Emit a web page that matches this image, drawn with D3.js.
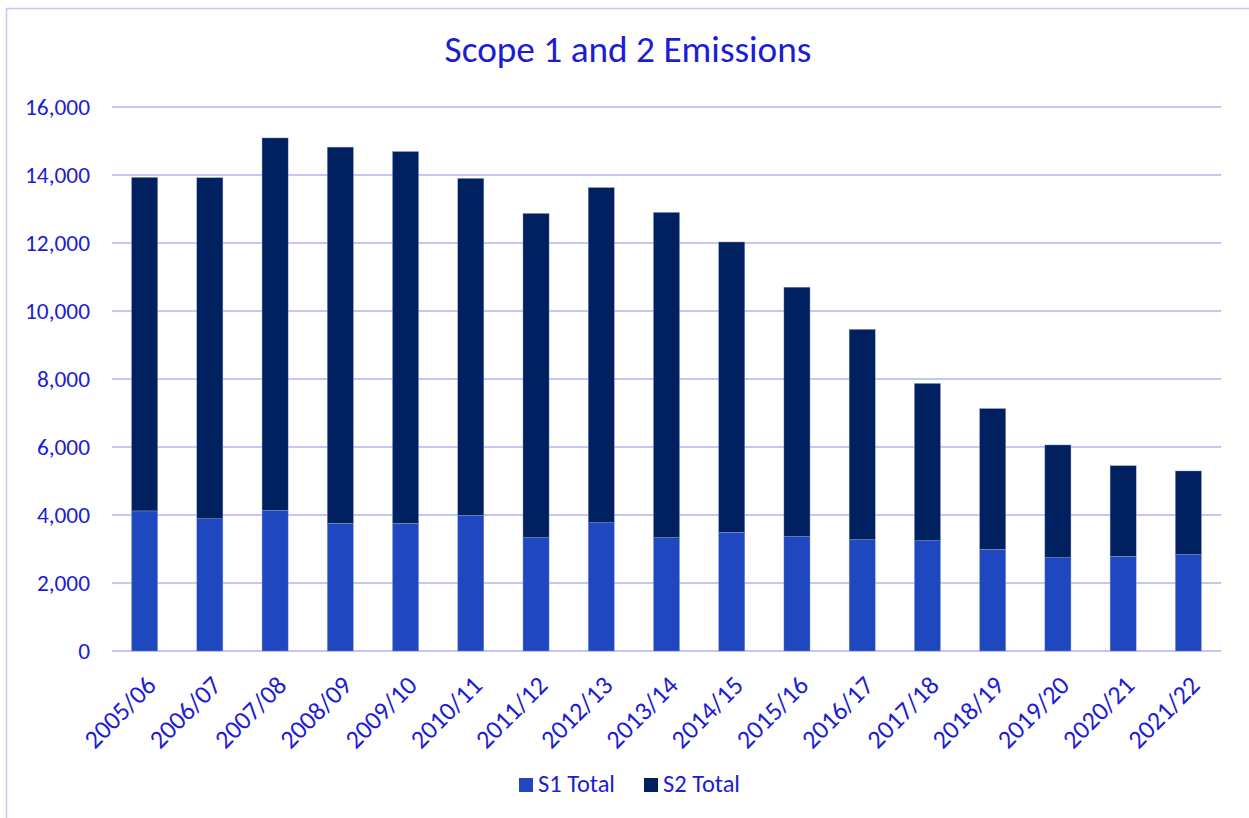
<!DOCTYPE html>
<html>
<head>
<meta charset="utf-8">
<script src="https://cdn.jsdelivr.net/npm/d3@7"></script>
<style>
  html, body { margin: 0; padding: 0; background: #ffffff; }
  svg { display: block; }
</style>
</head>
<body>
<svg id="chart" width="1249" height="818"></svg>
<script>
// ---- data ----
const categories = ["2005/06","2006/07","2007/08","2008/09","2009/10","2010/11","2011/12","2012/13","2013/14","2014/15","2015/16","2016/17","2017/18","2018/19","2019/20","2020/21","2021/22"];
const s1Total = [4120, 3890, 4140, 3755, 3755, 3990, 3335, 3775, 3335, 3490, 3365, 3275, 3245, 2990, 2745, 2785, 2835];
const totals  = [13930, 13920, 15090, 14820, 14690, 13900, 12870, 13630, 12900, 12030, 10700, 9460, 7870, 7130, 6060, 5450, 5295];
const s2Total = totals.map((t, i) => t - s1Total[i]);
const seriesNames = ["S1 Total", "S2 Total"];
const yTicks = [0, 2000, 4000, 6000, 8000, 10000, 12000, 14000, 16000];
const titleText = "Scope 1 and 2 Emissions";

// ---- style ----
const FONT = "Carlito, Calibri, Lato, 'Open Sans', sans-serif";
const TEXT = "#1c1cd4";
const GRID = "#c6c6f6";
const COLORS = ["#1f47bf", "#002060"];

const svg = d3.select("#chart");

// measuring helper: font size that makes text a given width
function fitSize(txt, width, base) {
  const t = svg.append("text").attr("font-family", FONT).attr("font-size", 100).text(txt);
  const w = t.node().getComputedTextLength();
  t.remove();
  return w > 0 ? 100 * width / w : base;
}

// chart frame
svg.append("rect")
  .attr("x", 6.5).attr("y", 8.5).attr("width", 1260).attr("height", 830)
  .attr("fill", "none").attr("stroke", GRID).attr("stroke-width", 1.5);

const x = d3.scaleBand().domain(categories).range([112, 1221]).paddingInner(0.6).paddingOuter(0.3);
const y = d3.scaleLinear().domain([0, 16000]).range([651, 107]);

// gridlines
svg.append("g").selectAll("line").data(yTicks).join("line")
  .attr("x1", 112).attr("x2", 1221)
  .attr("y1", d => y(d)).attr("y2", d => y(d))
  .attr("stroke", GRID).attr("stroke-width", 2);

// stacked bars
const rows = categories.map((c, i) => ({cat: c, s1: s1Total[i], s2: s2Total[i]}));
const stack = d3.stack().keys(["s1", "s2"])(rows);
svg.append("g").selectAll("g").data(stack).join("g")
  .attr("fill", (d, i) => COLORS[i])
  .selectAll("rect").data(d => d).join("rect")
  .attr("x", d => x(d.data.cat))
  .attr("width", x.bandwidth())
  .attr("y", d => y(d[1]))
  .attr("height", d => y(d[0]) - y(d[1]))
  .attr("stroke", "#8fa0d8").attr("stroke-width", 0.4);

// y axis labels
const tickSize = fitSize("16,000", 65, 22);
const yAxis = d3.axisLeft(y).tickValues(yTicks).tickFormat(d3.format(",")).tickSize(0).tickPadding(0);
const yg = svg.append("g").attr("transform", "translate(90,0)").call(yAxis);
yg.select(".domain").remove();
yg.selectAll("text").attr("font-family", FONT).attr("font-size", tickSize).attr("fill", TEXT).attr("dy", "0.34em");

// x axis labels
const xSize = fitSize("2005/06", 89, 22);
const xAxis = d3.axisBottom(x).tickSize(0).tickPadding(0);
const xg = svg.append("g").attr("transform", "translate(0,0)").call(xAxis);
xg.select(".domain").remove();
xg.selectAll(".tick").attr("transform", d => `translate(${x(d) + x.bandwidth() / 2 + 13},687)`);
xg.selectAll("text")
  .attr("font-family", FONT).attr("font-size", xSize).attr("fill", TEXT)
  .attr("text-anchor", "end").attr("dy", 0).attr("y", 0).attr("x", 0)
  .attr("transform", "rotate(-45)");

// title
const titleSize = fitSize(titleText, 367, 36);
svg.append("text")
  .attr("x", 628).attr("y", 62)
  .attr("text-anchor", "middle")
  .attr("font-family", FONT).attr("font-size", titleSize).attr("fill", TEXT)
  .text(titleText);

// legend
const legendSize = fitSize("S1 Total", 77, 22);
const legendX = [519, 644];
const lg = svg.append("g").selectAll("g").data(seriesNames).join("g")
  .attr("transform", (d, i) => `translate(${legendX[i]},778)`);
lg.append("rect").attr("width", 14).attr("height", 14).attr("fill", (d, i) => COLORS[i]);
lg.append("text").attr("x", 19).attr("y", 14)
  .attr("font-family", FONT).attr("font-size", legendSize).attr("fill", TEXT)
  .text(d => d);
</script>
</body>
</html>
